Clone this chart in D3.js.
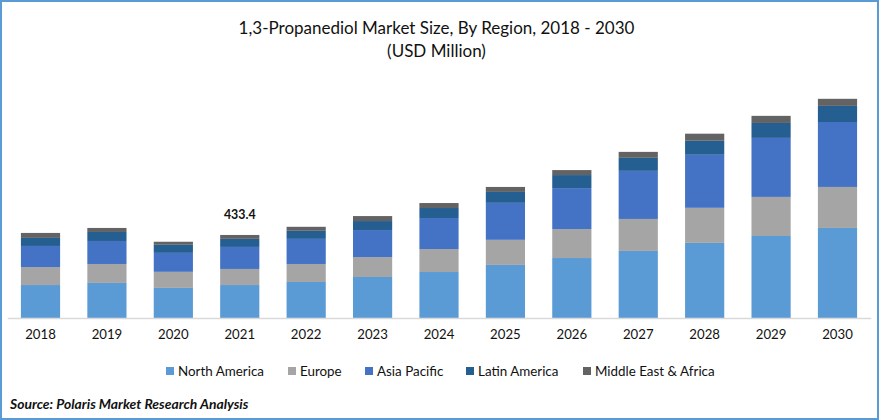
<!DOCTYPE html>
<html>
<head>
<meta charset="utf-8">
<script src="https://cdnjs.cloudflare.com/ajax/libs/d3/7.8.5/d3.min.js"></script>
<style>
  html, body { margin: 0; padding: 0; background: #fff; }
  svg { display: block; }
  text { font-family: Lato, "Open Sans", sans-serif; fill: #111; }
</style>
</head>
<body>
<script>
"use strict";
// values, USD million
const years = ["2018", "2019", "2020", "2021", "2022", "2023", "2024", "2025", "2026", "2027", "2028", "2029", "2030"];
const northAmerica = [172, 183, 157, 172, 188, 214, 240, 277, 313, 350, 392, 428, 470];
const europe = [94, 99, 84, 84, 94, 104, 120, 131, 151, 167, 183, 204, 214];
const asiaPacific = [110, 120, 99, 115, 131, 141, 162, 193, 214, 251, 277, 308, 339];
const latinAmerica = [42, 47, 42, 42, 42, 47, 52, 57, 68, 68, 73, 78, 84];
const middleEastAfrica = [26, 21, 16, 20.4, 21, 26, 26, 26, 26, 31, 37, 37, 37];
const regions = ["North America", "Europe", "Asia Pacific", "Latin America", "Middle East & Africa"];
const regionColors = ["#5b9bd5", "#a5a5a5", "#4472c4", "#255e91", "#636363"];

const m = { width: 879, height: 420, base: 318 };

const rows = years.map((year, i) => ({
    year: year,
    "North America": northAmerica[i],
    "Europe": europe[i],
    "Asia Pacific": asiaPacific[i],
    "Latin America": latinAmerica[i],
    "Middle East & Africa": middleEastAfrica[i]
}));

const svg = d3.select("body").append("svg")
    .attr("width", m.width)
    .attr("height", m.height);

// outer frame
svg.append("rect")
    .attr("x", 1).attr("y", 1)
    .attr("width", m.width - 2).attr("height", m.height - 2)
    .attr("fill", "#fff")
    .attr("stroke", "#5b9bd5")
    .attr("stroke-width", 2);

const title = svg.append("text")
    .attr("text-anchor", "middle")
    .attr("font-size", 17);
title.append("tspan").attr("x", 436.5).attr("y", 33.5).text("1,3-Propanediol Market Size, By Region, 2018 - 2030");
title.append("tspan").attr("x", 436.5).attr("y", 57).text("(USD Million)");

const x = d3.scaleBand()
    .domain(years)
    .range([7.3, 870.7])
    .paddingInner(0.41)
    .paddingOuter(0.205);

const y = d3.scaleLinear()
    .domain([0, 1500])
    .range([m.base, 30.6]);

const color = d3.scaleOrdinal().domain(regions).range(regionColors);
const stacked = d3.stack().keys(regions)(rows);

svg.selectAll("g.series")
    .data(stacked)
    .enter()
    .append("g")
    .attr("class", "series")
    .attr("fill", d => color(d.key))
    .selectAll("rect")
    .data(d => d)
    .enter()
    .append("rect")
    .attr("x", d => x(d.data.year))
    .attr("y", d => y(d[1]))
    .attr("width", x.bandwidth())
    .attr("height", d => y(d[0]) - y(d[1]));

const axis = svg.append("g")
    .attr("transform", `translate(0,${m.base})`)
    .call(d3.axisBottom(x).tickSize(0).tickPadding(12));
axis.select(".domain").attr("stroke", "#d9d9d9").attr("stroke-width", 1.5);
axis.selectAll("text")
    .attr("font-size", 13.2)
    .attr("font-family", "Lato, sans-serif")
    .attr("fill", "#111");

// callout over 2021
svg.append("text")
    .attr("x", x("2021") + x.bandwidth() / 2)
    .attr("y", 219)
    .attr("text-anchor", "middle")
    .attr("font-size", 12.4)
    .attr("font-weight", "bold")
    .text("433.4");

// legend
const legendX = [166, 288, 365, 466, 583];
const legend = svg.selectAll("g.legend")
    .data(regions)
    .enter()
    .append("g")
    .attr("class", "legend")
    .attr("transform", (d, i) => `translate(${legendX[i]},367)`);
legend.append("rect")
    .attr("width", 8)
    .attr("height", 8)
    .attr("fill", d => color(d));
legend.append("text")
    .attr("x", 12)
    .attr("y", 9)
    .attr("font-size", 13.4)
    .text(d => d);

svg.append("text")
    .attr("x", 10)
    .attr("y", 409)
    .attr("font-size", 13.9)
    .attr("font-weight", "bold")
    .attr("font-style", "italic")
    .text("Source: Polaris  Market Research Analysis");
</script>
</body>
</html>
